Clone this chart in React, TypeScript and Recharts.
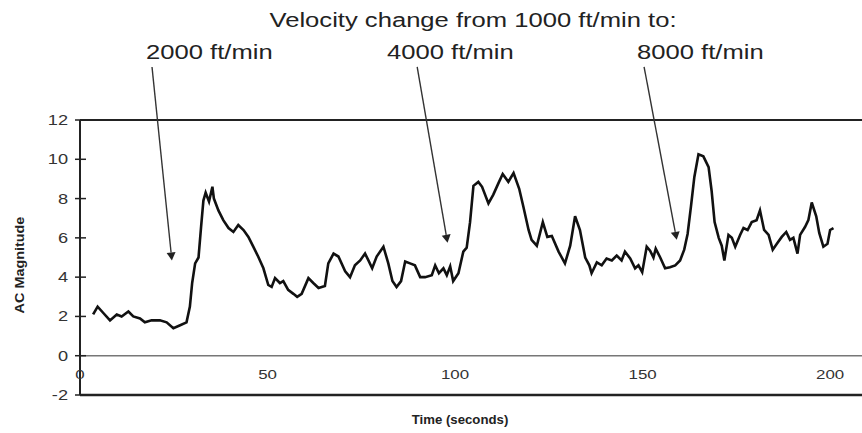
import React from "react";
import { LineChart, Line, XAxis, YAxis, ReferenceLine } from "recharts";

// AC magnitude trace (time in seconds)
const times = [
  3.5, 4.7, 6.1, 8.0, 9.8, 11.1, 12.9, 14.2, 16.0, 17.3, 19.1, 21.3, 23.1, 24.9, 26.7, 28.4,
  29.3, 29.9, 30.7, 31.6, 32.3, 32.9, 33.5, 34.4, 35.3, 35.7, 36.9, 38.2, 39.6, 40.9, 42.2,
  43.6, 44.9, 46.2, 47.5, 48.9, 50.2, 51.1, 52.0, 53.3, 54.2, 55.5, 56.9, 57.9, 59.1, 60.9,
  62.2, 63.6, 65.3, 66.2, 67.6, 68.9, 70.7, 72.0, 73.3, 74.7, 76.0, 76.9, 77.9, 79.1, 80.9,
  82.2, 83.3, 84.4, 85.6, 86.7, 88.0, 89.3, 90.7, 92.0, 93.8, 94.7, 95.7, 96.9, 97.8, 98.7,
  99.5, 100.9, 102.2, 103.1, 104.0, 104.9, 106.2, 107.2, 108.9, 110.2, 111.6, 112.7, 114.2,
  115.6, 117.1, 118.2, 119.6, 120.4, 121.8, 123.4, 124.6, 125.8, 127.6, 129.3, 130.7, 132.0,
  133.3, 134.7, 135.8, 136.4, 137.8, 139.1, 140.4, 141.8, 143.1, 144.4, 145.3, 146.7, 148.0,
  148.9, 149.9, 151.1, 152.0, 152.9, 153.5, 154.7, 156.0, 157.3, 158.7, 160.0, 161.1, 162.0,
  162.9, 163.8, 164.9, 166.2, 167.6, 168.4, 169.2, 170.3, 171.1, 171.8, 172.9, 173.8, 174.7,
  176.0, 176.9, 178.0, 179.1, 180.4, 181.3, 182.4, 183.6, 184.7, 185.8, 187.1, 188.3, 189.3,
  190.2, 191.3, 192.0, 193.3, 194.2, 195.1, 196.3, 197.1, 198.2, 199.3, 200.0, 200.9,
];
const magnitudes = [
  2.1, 2.5, 2.2, 1.8, 2.1, 2.0, 2.25, 2.0, 1.9, 1.7, 1.8, 1.8, 1.7, 1.4, 1.55, 1.7,
  2.5, 3.7, 4.7, 5.0, 6.6, 7.9, 8.3, 7.85, 8.6, 8.0, 7.4, 6.9, 6.5, 6.3, 6.65,
  6.4, 6.05, 5.55, 5.05, 4.45, 3.6, 3.5, 3.95, 3.7, 3.8, 3.35, 3.15, 3.0, 3.15, 3.95,
  3.7, 3.45, 3.55, 4.7, 5.2, 5.05, 4.3, 4.0, 4.6, 4.85, 5.2, 4.85, 4.45, 5.05, 5.55,
  4.7, 3.8, 3.5, 3.8, 4.8, 4.7, 4.6, 4.0, 4.0, 4.1, 4.6, 4.2, 4.45, 4.1, 4.55,
  3.8, 4.2, 5.3, 5.5, 6.8, 8.65, 8.85, 8.6, 7.75, 8.2, 8.8, 9.25, 8.85,
  9.3, 8.5, 7.6, 6.4, 5.9, 5.6, 6.8, 6.05, 6.1, 5.3, 4.7, 5.6, 7.1,
  6.4, 5.0, 4.6, 4.2, 4.75, 4.6, 4.95, 4.85, 5.1, 4.85, 5.3, 4.95, 4.45,
  4.6, 4.25, 5.55, 5.35, 5.0, 5.45, 5.0, 4.45, 4.5, 4.6, 4.85, 5.4, 6.2,
  7.6, 9.1, 10.25, 10.15, 9.6, 8.4, 6.8, 6.0, 5.6, 4.85, 6.15, 6.0, 5.55,
  6.15, 6.5, 6.4, 6.8, 6.9, 7.4, 6.4, 6.15, 5.4, 5.7, 6.05, 6.3, 5.9,
  6.0, 5.2, 6.15, 6.55, 6.9, 7.8, 7.1, 6.25, 5.55, 5.7, 6.4, 6.5,
];

const xTicks = [0, 50, 100, 150, 200];
const yTicks = [-2, 0, 2, 4, 6, 8, 10, 12];

// arrows: tail above the plot, tip on the trace
const arrowTailTimes = [19.2, 89.9, 150.4];
const arrowTailValues = [14.7, 14.7, 14.7];
const arrowTipTimes = [24.5, 98, 159.1];
const arrowTipValues = [4.85, 5.75, 5.9];
const velocityLabels = ["2000 ft/min", "4000 ft/min", "8000 ft/min"];
const titleText = "Velocity change from 1000 ft/min to:";

const data = times.map((t, i) => ({ t, v: magnitudes[i] }));

const FONT = "'Liberation Sans', Arial, sans-serif";
const SX = 1.3; // the scan is stretched sideways

function XTick(props: any) {
  const { x, y, payload } = props;
  return (
    <text
      transform={`translate(${x},${y - 16}) scale(${SX},1)`}
      textAnchor="middle"
      fontFamily={FONT}
      fontSize={13}
      fill="#333"
    >
      {payload.value}
    </text>
  );
}

function YTick(props: any) {
  const { x, y, payload } = props;
  return (
    <g>
      <line x1={x - 5} x2={x + 6} y1={y} y2={y} stroke="#222" strokeWidth={1.5} />
      <text
        transform={`translate(${x - 12},${y + 5}) scale(${SX},1)`}
        textAnchor="end"
        fontFamily={FONT}
        fontSize={14}
        fill="#333"
      >
        {payload.value}
      </text>
    </g>
  );
}

function Arrow(props: any) {
  const { x1, y1, x2, y2 } = props;
  const ang = Math.atan2(y2 - y1, x2 - x1);
  const len = 8;
  const half = 4.5;
  const bx = x2 - len * Math.cos(ang);
  const by = y2 - len * Math.sin(ang);
  const px = -Math.sin(ang) * half;
  const py = Math.cos(ang) * half;
  return (
    <g>
      <line x1={x1} y1={y1} x2={bx} y2={by} stroke="#333" strokeWidth={1.4} />
      <polygon points={`${x2},${y2} ${bx + px},${by + py} ${bx - px},${by - py}`} fill="#222" />
    </g>
  );
}

export default function App() {
  return (
    <div style={{ position: "absolute", left: 0, top: 0, width: 862, height: 433, background: "#fff" }}>
      <LineChart width={862} height={433} data={data} margin={{ top: 120, right: 0, bottom: 0, left: 0 }}>
        <XAxis
          dataKey="t"
          type="number"
          domain={[0, 208.5]}
          ticks={xTicks}
          allowDataOverflow
          height={38}
          tickLine={false}
          tickSize={0}
          tickMargin={0}
          tick={<XTick />}
          axisLine={{ stroke: "#222", strokeWidth: 2.5 }}
          label={{
            content: (p: any) => (
              <text
                transform={`translate(${p.viewBox.x + 380},${p.viewBox.y + 29}) scale(1.1,1)`}
                textAnchor="middle"
                fontFamily={FONT}
                fontSize={12}
                fontWeight="bold"
                fill="#222"
              >
                Time (seconds)
              </text>
            ),
          }}
        />
        <YAxis
          type="number"
          domain={[-2, 12]}
          ticks={yTicks}
          allowDataOverflow
          width={80}
          tickLine={false}
          tickSize={0}
          tickMargin={0}
          tick={<YTick />}
          axisLine={{ stroke: "#222", strokeWidth: 2 }}
          label={{
            content: (p: any) => (
              <text
                transform={`translate(24,${p.viewBox.y + 145}) rotate(-90) scale(1.2,1)`}
                textAnchor="middle"
                fontFamily={FONT}
                fontSize={12}
                fontWeight="bold"
                fill="#222"
              >
                AC Magnitude
              </text>
            ),
          }}
        />
        <ReferenceLine y={12} stroke="#222" strokeWidth={2} />
        <ReferenceLine y={0} stroke="#777" strokeWidth={1.5} />
        {arrowTipTimes.map((t, i) => (
          <ReferenceLine
            key={`arrow-${i}`}
            ifOverflow="visible"
            segment={[
              { x: arrowTailTimes[i], y: arrowTailValues[i] },
              { x: t, y: arrowTipValues[i] },
            ]}
            shape={Arrow}
          />
        ))}
        <Line
          type="linear"
          dataKey="v"
          stroke="#111"
          strokeWidth={2.6}
          dot={false}
          isAnimationActive={false}
        />
      </LineChart>
      <svg width={862} height={433} style={{ position: "absolute", left: 0, top: 0, pointerEvents: "none" }}>
        <text
          transform={`translate(473,27) scale(1.22,1)`}
          textAnchor="middle"
          fontFamily={FONT}
          fontSize={21}
          fill="#222"
        >
          {titleText}
        </text>
        {velocityLabels.map((label, i) => (
          <text
            key={label}
            transform={`translate(${[146, 387, 637][i]},59) scale(1.28,1)`}
            fontFamily={FONT}
            fontSize={20}
            fill="#222"
          >
            {label}
          </text>
        ))}
      </svg>
    </div>
  );
}
